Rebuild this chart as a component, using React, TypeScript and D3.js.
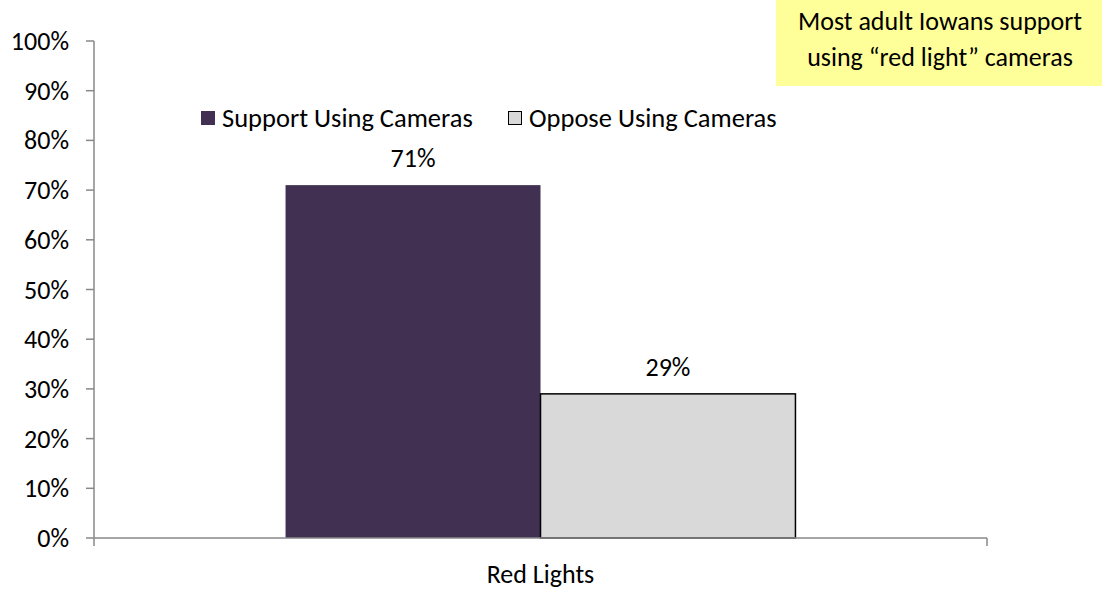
import React from "react";
import * as d3 from "d3";

const categories = ["Red Lights"];
const seriesNames = ["Support Using Cameras", "Oppose Using Cameras"];
const supportValues = [71];
const opposeValues = [29];
const yTicks = [0, 10, 20, 30, 40, 50, 60, 70, 80, 90, 100];
const titleLines = ["Most adult Iowans support", "using \u201cred light\u201d cameras"];

const W = 1102;
const H = 589;
const FONT = "Carlito, Calibri, 'Open Sans', sans-serif";
const FS = 26;

export default function App() {
  const left = 94, right = 987, top = 41, bottom = 538;
  const y = d3.scaleLinear().domain([0, 100]).range([bottom, top]);
  const x0 = d3.scaleBand().domain(categories).range([left, right]).paddingInner(0).paddingOuter(0);
  const inner = 0.2145;
  const x1 = d3.scaleBand().domain(seriesNames).range([x0.bandwidth() * inner, x0.bandwidth() * (1 - inner)]);
  const colors = ["#413052", "#D9D9D9"];
  const vals = [supportValues, opposeValues];
  const axisColor = "#888888";

  return (
    <svg width={W} height={H} style={{ position: "absolute", left: 0, top: 0, fontFamily: FONT }}>
      <rect x={0} y={0} width={W} height={H} fill="#fff" />
      <rect x={776} y={0} width={W - 776} height={86} fill="#FFFF99" />
      {titleLines.map((t, i) => (
        <text key={i} x={940} y={30 + i * 36} textAnchor="middle" fontSize={FS} fill="#000">{t}</text>
      ))}
      {/* bars */}
      {categories.map((c, ci) =>
        seriesNames.map((s, si) => {
          const v = vals[si][ci];
          const bx = (x0(c) as number) + (x1(s) as number);
          const bw = x1.bandwidth();
          return (
            <g key={c + s}>
              <rect x={bx} y={y(v)} width={bw} height={bottom - y(v)} fill={colors[si]}
                stroke={si === 1 ? "#000" : "none"} strokeWidth={si === 1 ? 1.5 : 0} />
              <text x={bx + bw / 2} y={y(v) - 18} textAnchor="middle" fontSize={FS} fill="#000">{v}%</text>
            </g>
          );
        })
      )}
      {/* y axis */}
      <line x1={left} x2={left} y1={top} y2={bottom} stroke={axisColor} strokeWidth={1.5} />
      {yTicks.map((t) => (
        <g key={t}>
          <line x1={left - 8} x2={left} y1={y(t)} y2={y(t)} stroke={axisColor} strokeWidth={1.5} />
          <text x={69} y={y(t) + 9} textAnchor="end" fontSize={FS} fill="#000">{t}%</text>
        </g>
      ))}
      {/* x axis */}
      <line x1={left} x2={right} y1={bottom} y2={bottom} stroke={axisColor} strokeWidth={1.5} />
      <line x1={left} x2={left} y1={bottom} y2={bottom + 8} stroke={axisColor} strokeWidth={1.5} />
      <line x1={right} x2={right} y1={bottom} y2={bottom + 8} stroke={axisColor} strokeWidth={1.5} />
      {categories.map((c) => (
        <text key={c} x={(x0(c) as number) + x0.bandwidth() / 2} y={583} textAnchor="middle" fontSize={FS} fill="#000">{c}</text>
      ))}
      {/* legend */}
      <rect x={201} y={111} width={14} height={14} fill={colors[0]} />
      <text x={222} y={127} fontSize={26.5} fill="#000">{seriesNames[0]}</text>
      <rect x={508.5} y={111.5} width={13} height={13} fill={colors[1]} stroke="#000" strokeWidth={1} />
      <text x={529} y={127} fontSize={26.5} fill="#000">{seriesNames[1]}</text>
    </svg>
  );
}
